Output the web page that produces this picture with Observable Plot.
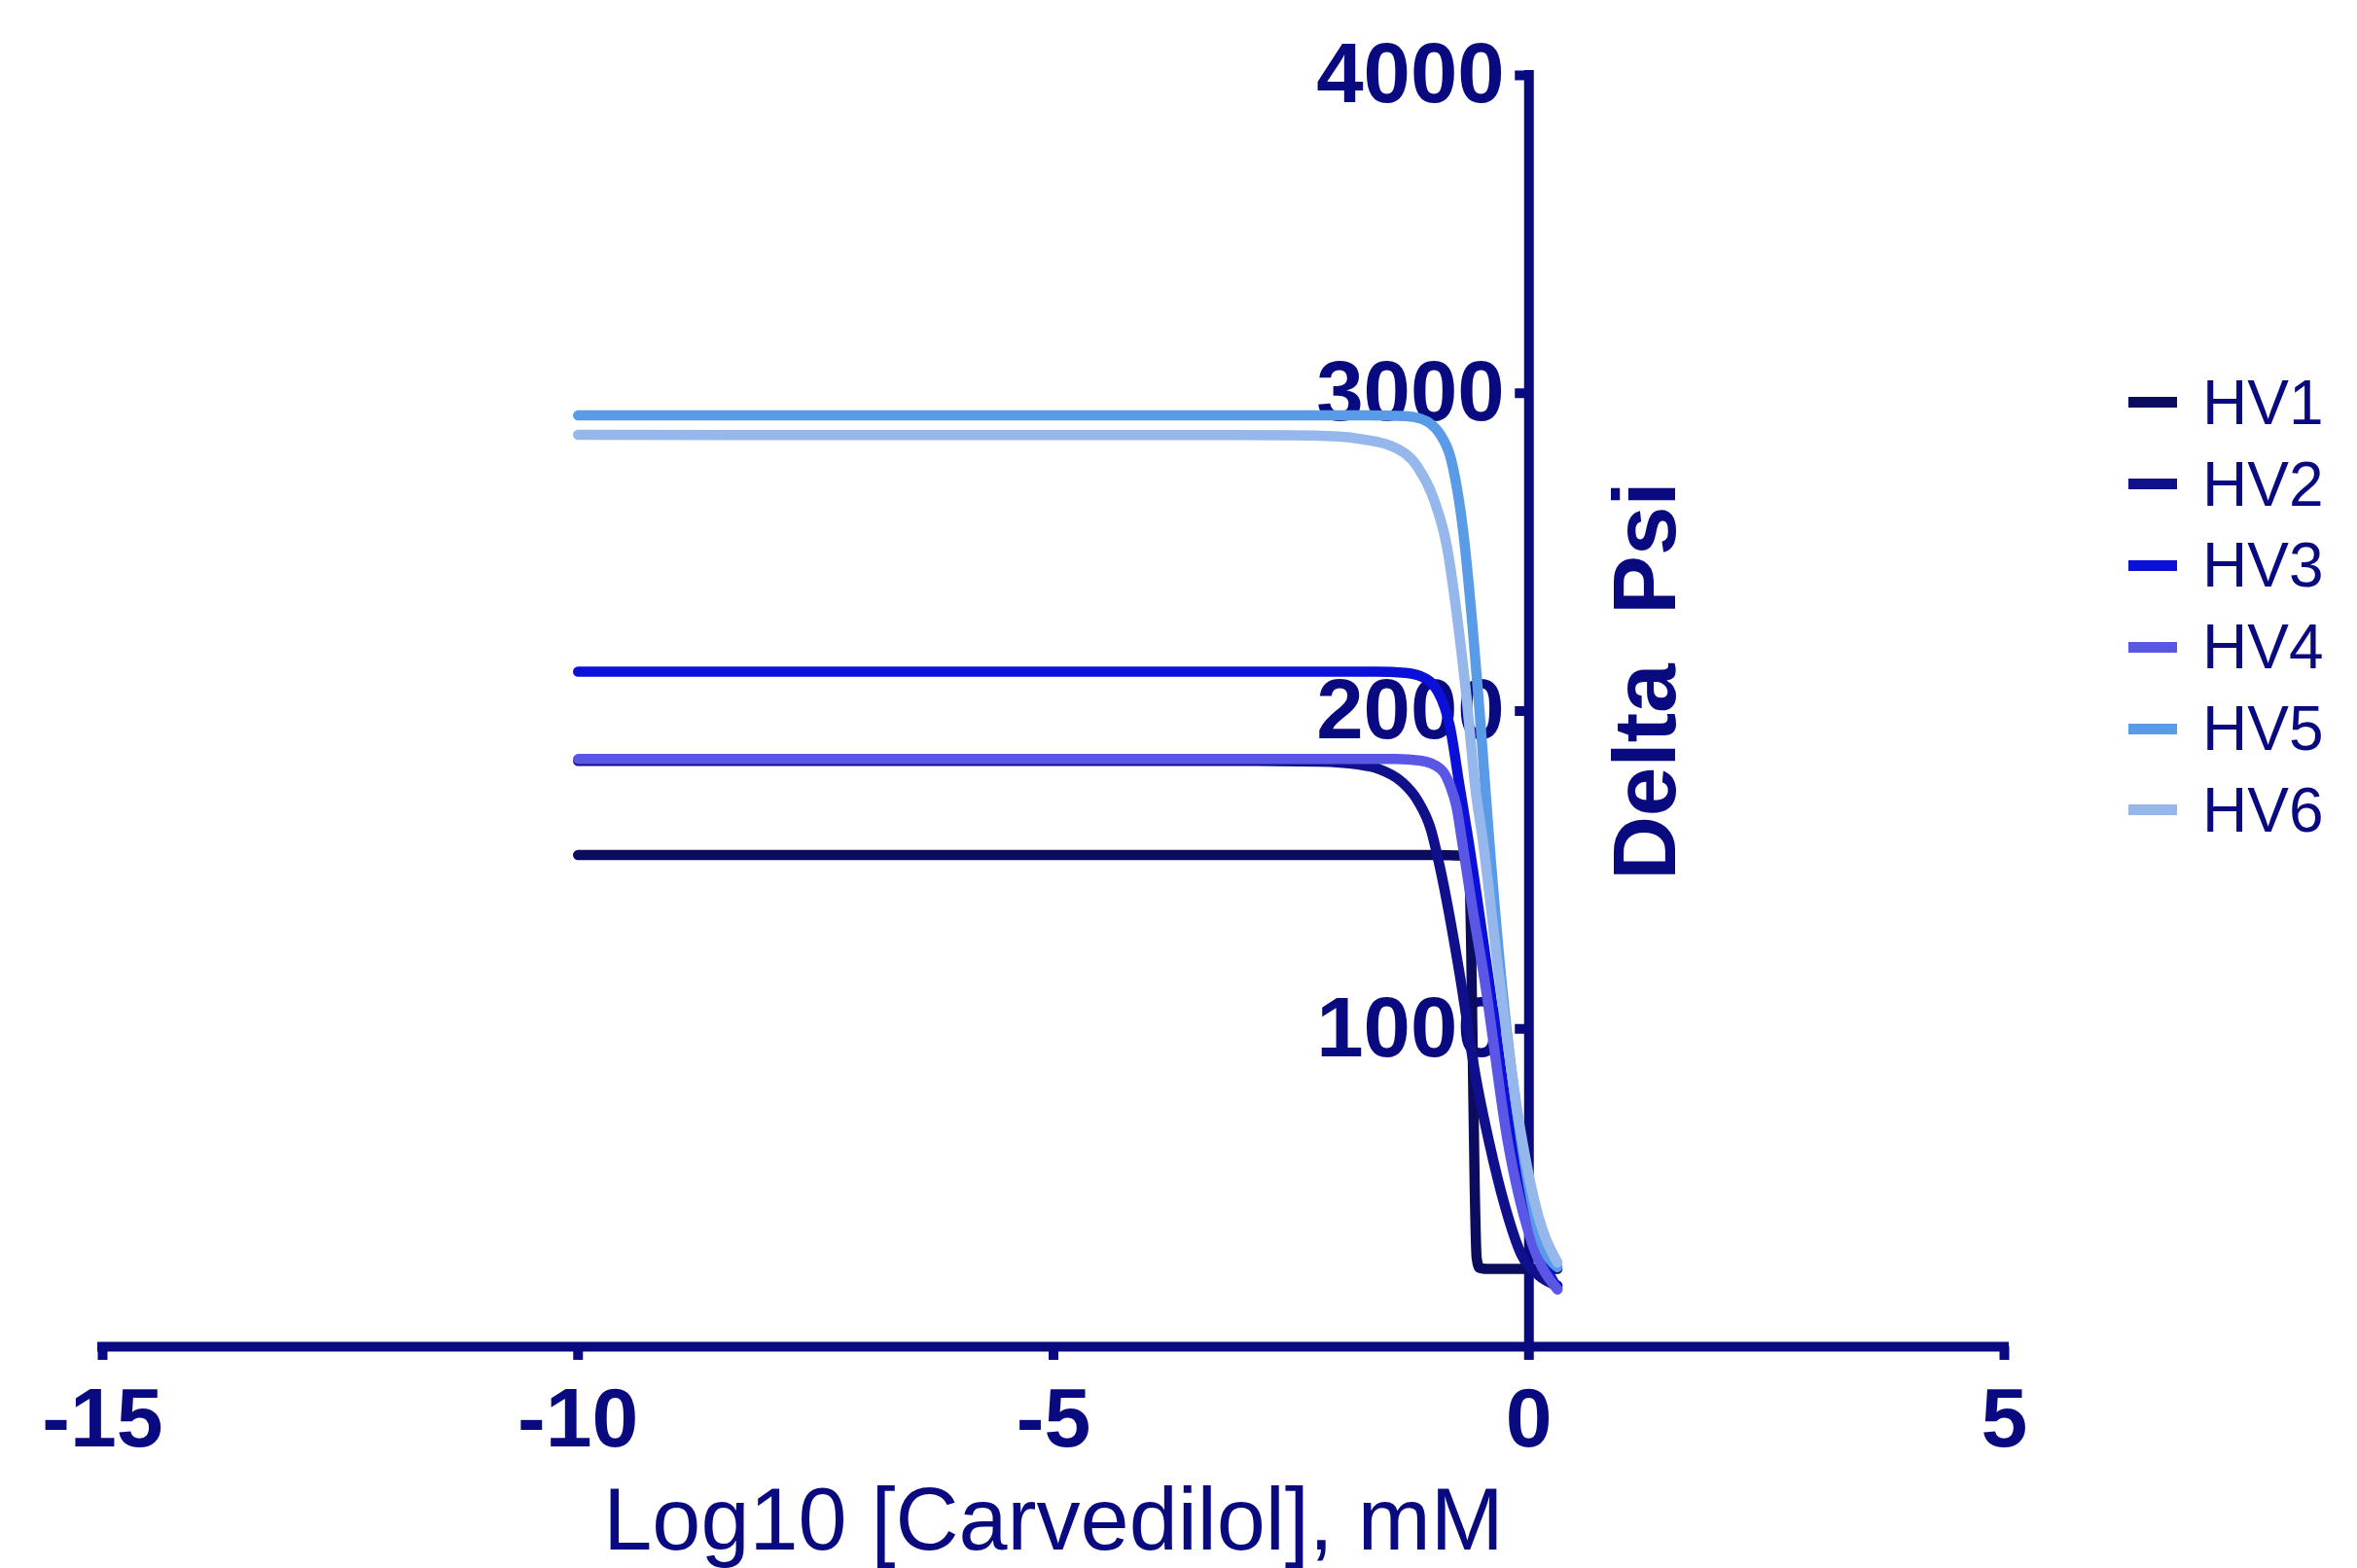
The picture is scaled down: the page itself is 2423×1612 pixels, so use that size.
<!DOCTYPE html>
<html>
<head>
<meta charset="utf-8">
<script src="https://cdn.jsdelivr.net/npm/d3@7"></script>
<script src="https://cdn.jsdelivr.net/npm/@observablehq/plot@0.6"></script>
<style>
  html, body { margin: 0; padding: 0; background: #fff; }
  #wrap { position: relative; width: 2423px; height: 1612px; overflow: hidden; font-family: Arial, "Liberation Sans", sans-serif; }
  #legend { position: absolute; left: 2188px; top: 372px; }
  .row { display: flex; align-items: center; height: 83.8px; }
  .sw { width: 50px; height: 11px; margin-right: 26px; }
  .lab { font-size: 64px; color: #0a0a80; line-height: 1; }
  svg text { white-space: pre; }
</style>
</head>
<body>
<div id="wrap"><div id="chart"></div><div id="legend"></div></div>
<script>
// ---- data ----
const seriesNames = ["HV1", "HV2", "HV3", "HV4", "HV5", "HV6"];
const seriesColors = ["#0c0c5e", "#10108c", "#0b10d8", "#5a56e6", "#5a9be8", "#95b7eb"];

// [log10 concentration, Delta Psi]
const hv1 = [[-10, 1547], [-1, 1547], [-0.68, 1545], [-0.63, 1510], [-0.61, 1300], [-0.59, 900], [-0.57, 500], [-0.55, 280], [-0.52, 248], [-0.45, 245], [0.3, 245]];
const hv2 = [[-10, 1843], [-3, 1843], [-2.2, 1841], [-1.8, 1832], [-1.58, 1818], [-1.34, 1778], [-1.17, 1718], [-1.03, 1626], [-0.93, 1500], [-0.73, 1175], [-0.56, 850], [-0.42, 645], [-0.25, 440], [-0.08, 290], [0.1, 225], [0.3, 192]];
const hv3 = [[-10, 2124], [-1.6, 2124], [-1.3, 2120], [-1.14, 2110], [-0.96, 2062], [-0.83, 1950], [-0.73, 1765], [-0.64, 1600], [-0.42, 1150], [-0.18, 645], [0.06, 340], [0.3, 184]];
const hv4 = [[-10, 1849], [-1.4, 1849], [-1.14, 1844], [-0.93, 1818], [-0.83, 1766], [-0.76, 1696], [-0.71, 1604], [-0.6, 1390], [-0.47, 1160], [-0.22, 640], [0.04, 320], [0.3, 180]];
const hv5 = [[-10, 2930], [-1.7, 2930], [-1.3, 2928], [-1.14, 2920], [-0.93, 2869], [-0.8, 2768], [-0.69, 2562], [-0.59, 2256], [-0.52, 2002], [-0.42, 1604], [-0.29, 1155], [-0.08, 645], [0.12, 340], [0.3, 250]];
const hv6 = [[-10, 2869], [-2.5, 2868], [-2, 2864], [-1.75, 2855], [-1.41, 2829], [-1.17, 2768], [-1, 2666], [-0.86, 2513], [-0.76, 2308], [-0.66, 2054], [-0.56, 1748], [-0.49, 1604], [-0.32, 1180], [-0.1, 700], [0.1, 410], [0.3, 265]];

const xTicks = [-15, -10, -5, 0, 5];
const yTicks = [1000, 2000, 3000, 4000];
const yDomain = [0, 4000];
const yAxisAt = 0;
const xLabel = "Log10 [Carvedilol], mM";
const yLabel = "Delta  Psi";

// ---- build ----
const navy = "#0a0a80";
const curves = [hv1, hv2, hv3, hv4, hv5, hv6];
const data = seriesNames.flatMap((s, i) => curves[i].map(([x, y]) => ({series: s, x, y})));

const plot = Plot.plot({
  width: 2423,
  height: 1612,
  marginTop: 77,
  marginBottom: 228,
  marginLeft: 105,
  marginRight: 363,
  x: {domain: [xTicks[0], xTicks[xTicks.length - 1]], axis: null},
  y: {domain: yDomain, axis: null},
  color: {domain: seriesNames, range: seriesColors},
  style: {fontFamily: "Arial, 'Liberation Sans', sans-serif", background: "#fff", color: navy},
  marks: [
    // x axis line and ticks
    Plot.ruleY([yDomain[0]], {x1: xTicks[0], x2: xTicks[xTicks.length - 1], stroke: navy, strokeWidth: 10, strokeLinecap: "square"}),
    Plot.ruleX(xTicks, {x: d => d, y1: yDomain[0], y2: yDomain[0], insetBottom: -14, stroke: navy, strokeWidth: 10}),
    // y axis line (crossing at x = 0) and ticks
    Plot.ruleX([yAxisAt], {y1: yDomain[0], y2: yDomain[1], stroke: navy, strokeWidth: 10, strokeLinecap: "square"}),
    Plot.ruleY(yTicks, {y: d => d, x1: yAxisAt, x2: yAxisAt, insetLeft: -14, stroke: navy, strokeWidth: 10}),
    // tick labels
    Plot.text(xTicks, {x: d => d, y: yDomain[0], text: d => String(d), dy: 41, lineAnchor: "top", fontSize: 86, fontWeight: "bold", fill: navy}),
    Plot.text(yTicks, {x: yAxisAt, y: d => d, text: d => String(d), dx: -25, textAnchor: "end", lineAnchor: "middle", fontSize: 87, fontWeight: "bold", fill: navy}),
    // axis titles
    Plot.text([xLabel], {frameAnchor: "bottom", text: d => d, dy: 208, lineAnchor: "bottom", fontSize: 90, fill: navy}),
    Plot.text([yLabel], {x: yAxisAt, frameAnchor: "middle", text: d => d, rotate: -90, dx: 121, dy: -31, fontSize: 91, fontWeight: "bold", fill: navy}),
    // curves
    Plot.line(data, {x: "x", y: "y", z: "series", stroke: "series", strokeWidth: 10.5, curve: "monotone-x"})
  ]
});
document.getElementById("chart").appendChild(plot);

// legend
const legend = d3.select("#legend");
seriesNames.forEach((s, i) => {
  const row = legend.append("div").attr("class", "row");
  row.append("div").attr("class", "sw").style("background", seriesColors[i]);
  row.append("div").attr("class", "lab").text(s);
});
</script>
</body>
</html>
